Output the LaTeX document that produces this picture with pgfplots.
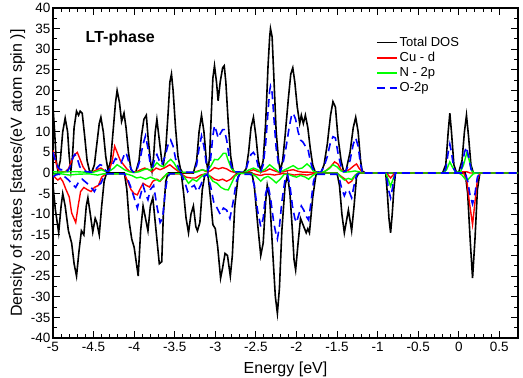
\documentclass[border=0pt]{standalone}
\usepackage{fontspec}
\setmainfont{Liberation Sans}
\usepackage{pgfplots}
\pgfplotsset{compat=1.18}
\begin{document}
\begin{tikzpicture}[x=1pt,y=1pt]
\begin{axis}[
  scale only axis, width=465pt, height=330pt,
  xmin=-5, xmax=0.73, ymin=-40, ymax=40,
  xtick={-5,-4.5,-4,-3.5,-3,-2.5,-2,-1.5,-1,-0.5,0,0.5},
  xticklabels={-5,-4.5,-4,-3.5,-3,-2.5,-2,-1.5,-1,-0.5,0,0.5},
  ytick={-40,-35,-30,-25,-20,-15,-10,-5,0,5,10,15,20,25,30,35,40},
  yticklabels={-40,-35,-30,-25,-20,-15,-10,-5,0,5,10,15,20,25,30,35,40},
  minor x tick num=4, minor y tick num=1,
  tick align=inside, tick pos=both,
  major tick length=7pt, minor tick length=4pt,
  every tick/.style={black, line width=1pt},
  axis line style={line width=1.2pt},
  tick label style={font=\fontsize{13.5}{15}\selectfont},
  xticklabel style={yshift=-1pt},
  yticklabel style={xshift=1pt},
  /pgf/number format/assume math mode=true,
  xlabel={Energy [eV]}, ylabel={Density of states [states/(eV atom spin )]},
  label style={font=\fontsize{16}{18}\selectfont},
  xlabel style={yshift=-3pt},
  ylabel style={yshift=-1pt},
  legend style={at={(0.688,0.925)}, anchor=north west, draw=none, fill=none,
    font=\fontsize{13}{15}\selectfont, row sep=0.5pt,
    /tikz/every even column/.append style={column sep=9pt}},
  legend cell align=left,
  legend image code/.code={\draw[#1] (0pt,0pt) -- (20pt,0pt);},
  clip=true,
]
% Total DOS up
\addplot[black, line width=1.6pt] coordinates {
(-5,16) (-4.98,10) (-4.96,3) (-4.94,0.5) (-4.91,3) (-4.88,10) (-4.85,13.3) (-4.82,10) (-4.80,4) (-4.78,0.5) (-4.76,4) (-4.74,11) (-4.71,15) (-4.685,14) (-4.665,15) (-4.64,14.5) (-4.61,9) (-4.58,3) (-4.55,0.5) (-4.52,0.3) (-4.49,2) (-4.46,7) (-4.43,12) (-4.41,13.5) (-4.38,10) (-4.35,4) (-4.32,0.5) (-4.29,3) (-4.26,10) (-4.23,17) (-4.21,20) (-4.18,17) (-4.155,12.5) (-4.125,14.5) (-4.10,11) (-4.07,5) (-4.04,1) (-4.02,0.2) (-3.98,0.2) (-3.94,3) (-3.91,9) (-3.88,13) (-3.85,14) (-3.83,9) (-3.80,3) (-3.78,0.5) (-3.76,4) (-3.74,10) (-3.72,13) (-3.69,8) (-3.66,3) (-3.64,2) (-3.61,6) (-3.58,15) (-3.56,22) (-3.54,24) (-3.52,20) (-3.49,11) (-3.46,4) (-3.43,1) (-3.40,0) (-3.27,0) (-3.23,3) (-3.20,10) (-3.17,14) (-3.14,10) (-3.11,3) (-3.09,0.5) (-3.07,4) (-3.05,14) (-3.03,23) (-3.01,26) (-2.985,22) (-2.965,17.5) (-2.94,22) (-2.91,25.5) (-2.89,26) (-2.87,22) (-2.84,12) (-2.81,4) (-2.78,0.5) (-2.74,0) (-2.66,0) (-2.62,1) (-2.59,5) (-2.56,11) (-2.53,13.5) (-2.50,9) (-2.47,3) (-2.44,0.5) (-2.41,3) (-2.38,12) (-2.35,26) (-2.33,33) (-2.32,35) (-2.30,33) (-2.28,24) (-2.25,10) (-2.22,3) (-2.20,0.5) (-2.17,3) (-2.14,9) (-2.10,18) (-2.07,24) (-2.045,25.5) (-2.02,22) (-1.99,16) (-1.96,12) (-1.94,14) (-1.915,12) (-1.89,14) (-1.86,11) (-1.83,6) (-1.80,2) (-1.77,0.3) (-1.70,0) (-1.66,2) (-1.62,7) (-1.58,14) (-1.55,17.3) (-1.52,16) (-1.49,9) (-1.45,3) (-1.42,0.5) (-1.39,0.5) (-1.34,5) (-1.30,11) (-1.27,13.5) (-1.24,10) (-1.21,3) (-1.19,0.5) (-1.15,0) (-0.20,0) (-0.16,2) (-0.13,10) (-0.11,14.5) (-0.09,10) (-0.06,2) (-0.03,0.2) (0.00,0.2) (0.04,3) (0.07,10) (0.095,14) (0.12,9) (0.15,2) (0.18,0) (0.73,0)
};
\addlegendentry{Total DOS}
% Cu-d up
\addplot[red, line width=1.4pt] coordinates {
(-5,5.5) (-4.98,4) (-4.95,1.5) (-4.92,0.2) (-4.89,0.3) (-4.85,0.3) (-4.81,1) (-4.77,3) (-4.73,4.5) (-4.70,5) (-4.67,3.5) (-4.63,1.5) (-4.59,0.3) (-4.52,0.2) (-4.46,0.8) (-4.41,1.2) (-4.36,0.5) (-4.31,0.5) (-4.27,3) (-4.24,6.5) (-4.21,5) (-4.17,3) (-4.13,2) (-4.09,1) (-4.05,0.3) (-3.97,0.3) (-3.92,0.8) (-3.87,1.2) (-3.82,0.8) (-3.78,0.3) (-3.73,1.2) (-3.68,0.8) (-3.63,1.2) (-3.56,2) (-3.51,1.2) (-3.45,0.3) (-3.40,0.1) (-3.27,0.1) (-3.21,0.5) (-3.16,0.8) (-3.11,0.3) (-3.06,0.5) (-3.01,1.3) (-2.96,1) (-2.91,1.3) (-2.86,1) (-2.81,0.4) (-2.75,0.1) (-2.62,0.1) (-2.57,0.5) (-2.53,0.8) (-2.48,0.4) (-2.44,0.2) (-2.38,0.5) (-2.33,1) (-2.28,0.6) (-2.22,0.2) (-2.16,0.3) (-2.10,0.6) (-2.04,0.8) (-1.98,0.4) (-1.92,0.2) (-1.86,0.2) (-1.80,0.1) (-1.70,0.1) (-1.64,0.5) (-1.58,1.5) (-1.53,2.7) (-1.49,2.2) (-1.45,0.8) (-1.41,0.3) (-1.35,0.8) (-1.29,1.8) (-1.26,2.2) (-1.23,1.2) (-1.19,0.2) (-1.15,0) (0.0,0) (0.05,0.3) (0.10,0.3) (0.14,0) (0.73,0)
};
\addlegendentry{Cu - d}
% N-2p up
\addplot[green, line width=1.4pt] coordinates {
(-5,0.3) (-4.90,0.2) (-4.80,0.3) (-4.70,0.3) (-4.60,0.2) (-4.50,0.2) (-4.45,0.5) (-4.40,0.8) (-4.35,0.3) (-4.30,0.5) (-4.25,1.2) (-4.21,2) (-4.17,1.5) (-4.12,0.8) (-4.06,0.3) (-4.0,0.1) (-3.94,0.3) (-3.88,0.8) (-3.84,1) (-3.80,0.6) (-3.76,1.5) (-3.72,2.5) (-3.68,1.8) (-3.64,1.5) (-3.58,2.8) (-3.55,3.3) (-3.51,2.5) (-3.46,0.8) (-3.41,0.2) (-3.3,0.1) (-3.22,0.3) (-3.16,0.8) (-3.11,0.5) (-3.06,1.5) (-3.01,3.3) (-2.97,3.2) (-2.94,3.8) (-2.90,4.8) (-2.87,4.8) (-2.84,3) (-2.80,1) (-2.75,0.2) (-2.65,0.1) (-2.58,0.8) (-2.53,1.2) (-2.48,0.8) (-2.44,0.3) (-2.38,1) (-2.33,2) (-2.28,1.2) (-2.22,0.3) (-2.17,0.5) (-2.10,1.2) (-2.04,1.8) (-1.98,1) (-1.93,1.2) (-1.87,2.2) (-1.83,1.5) (-1.79,0.4) (-1.74,0.1) (-1.66,0.3) (-1.60,1) (-1.55,2) (-1.50,1.5) (-1.45,0.5) (-1.40,0.2) (-1.34,0.3) (-1.28,0.5) (-1.23,0.3) (-1.18,0) (-0.19,0) (-0.15,0.8) (-0.11,2.7) (-0.08,1.5) (-0.04,0.2) (0.02,0.2) (0.06,2) (0.10,5) (0.13,3) (0.16,0.5) (0.19,0) (0.73,0)
};
\addlegendentry{N - 2p}
% O-2p up
\addplot[blue, line width=1.6pt, dash pattern=on 8pt off 5pt] coordinates {
(-5,5) (-4.97,3) (-4.94,1.5) (-4.91,0.8) (-4.88,0.8) (-4.85,1) (-4.82,0.5) (-4.79,1.5) (-4.75,4) (-4.73,4.5) (-4.70,3.5) (-4.67,1.5) (-4.63,0.8) (-4.59,0.3) (-4.52,0.2) (-4.47,1) (-4.42,2) (-4.39,1.8) (-4.35,0.6) (-4.32,0.3) (-4.27,2) (-4.23,3.5) (-4.19,3) (-4.16,2.5) (-4.12,4.5) (-4.10,5) (-4.07,3) (-4.04,1) (-4.01,0.2) (-3.97,0.5) (-3.93,3) (-3.89,7) (-3.86,9) (-3.83,6) (-3.80,2) (-3.77,1.5) (-3.74,4) (-3.72,4.5) (-3.69,3) (-3.66,2) (-3.62,4) (-3.58,7) (-3.55,8) (-3.52,6.5) (-3.49,3.5) (-3.45,1) (-3.42,0.2) (-3.27,0.2) (-3.23,2) (-3.20,6) (-3.17,9) (-3.14,6.5) (-3.11,2) (-3.09,0.5) (-3.06,3) (-3.03,9) (-3.01,11.5) (-2.985,10) (-2.965,8.5) (-2.94,9.5) (-2.91,10.5) (-2.89,10.5) (-2.86,8) (-2.83,4) (-2.80,1.5) (-2.77,0.3) (-2.66,0.2) (-2.62,1) (-2.59,3) (-2.56,4.5) (-2.53,5) (-2.50,4) (-2.47,1.5) (-2.44,0.3) (-2.41,2) (-2.38,7) (-2.35,15) (-2.33,20) (-2.32,21) (-2.30,19.5) (-2.28,14) (-2.25,6) (-2.22,2) (-2.20,0.3) (-2.17,2) (-2.13,6) (-2.09,11) (-2.06,14) (-2.04,14.5) (-2.01,13) (-1.98,10) (-1.95,8) (-1.92,7.5) (-1.89,6.5) (-1.86,6) (-1.84,4) (-1.81,1.5) (-1.78,0.3) (-1.70,0.2) (-1.66,1.5) (-1.62,4) (-1.58,7.5) (-1.55,8.8) (-1.52,8.5) (-1.49,5) (-1.45,1.5) (-1.42,0.3) (-1.39,0.5) (-1.34,3) (-1.30,7) (-1.27,8.5) (-1.24,6.5) (-1.21,2) (-1.19,0.3) (-1.15,0) (-0.19,0) (-0.16,1) (-0.13,5) (-0.11,7) (-0.09,5) (-0.06,1) (-0.03,0) (0.01,0) (0.04,1.5) (0.07,5) (0.095,6.3) (0.12,4) (0.15,1) (0.18,0) (0.73,0)
};
\addlegendentry{O-2p}
% Total DOS down
\addplot[black, line width=1.6pt] coordinates {
(-5,-3) (-4.97,-9) (-4.93,-14.5) (-4.90,-8) (-4.88,-5) (-4.85,-8) (-4.81,-14) (-4.77,-17) (-4.74,-22) (-4.71,-25) (-4.68,-19) (-4.65,-14) (-4.62,-15) (-4.59,-8) (-4.57,-6) (-4.54,-10) (-4.51,-14.3) (-4.48,-11) (-4.46,-12) (-4.43,-15) (-4.40,-8) (-4.37,-2) (-4.34,0) (-4.12,0) (-4.09,-4) (-4.06,-12) (-4.03,-16) (-4.00,-18) (-3.95,-25) (-3.92,-14) (-3.89,-8) (-3.86,-11) (-3.83,-14) (-3.80,-8) (-3.77,-6) (-3.74,-12) (-3.71,-18) (-3.69,-22) (-3.66,-21.5) (-3.64,-10) (-3.61,-2) (-3.58,0) (-3.42,0) (-3.39,-5) (-3.36,-11) (-3.33,-14.5) (-3.30,-10) (-3.27,-8) (-3.24,-13) (-3.22,-14) (-3.19,-12) (-3.16,-4) (-3.13,-0.5) (-3.09,-0.5) (-3.06,-6) (-3.03,-12.5) (-3.00,-13.5) (-2.97,-18) (-2.935,-25.5) (-2.91,-23) (-2.88,-19.5) (-2.85,-20) (-2.815,-25) (-2.79,-20) (-2.76,-8) (-2.72,-1) (-2.69,0) (-2.55,0) (-2.52,-3) (-2.48,-12) (-2.44,-20) (-2.41,-17) (-2.38,-7) (-2.36,-3) (-2.33,-6) (-2.29,-20) (-2.26,-30) (-2.235,-34) (-2.21,-28) (-2.18,-14) (-2.14,-3) (-2.11,-0.5) (-2.08,-5) (-2.05,-14) (-2.03,-21) (-2.01,-23.5) (-1.98,-17) (-1.95,-11) (-1.92,-12.5) (-1.88,-14.5) (-1.86,-13.5) (-1.84,-14.5) (-1.80,-6) (-1.76,-0.5) (-1.73,0) (-1.50,0) (-1.47,-3) (-1.44,-10) (-1.41,-14.5) (-1.36,-9) (-1.32,-14) (-1.29,-8) (-1.26,-1) (-1.23,0) (-0.90,0) (-0.88,-5) (-0.86,-11) (-0.84,-14.5) (-0.82,-10) (-0.80,-4) (-0.78,0) (0.08,0) (0.11,-5) (0.14,-16) (0.17,-25.5) (0.20,-16) (0.23,-4) (0.26,0) (0.73,0)
};
% Cu-d down
\addplot[red, line width=1.4pt] coordinates {
(-5,-0.5) (-4.97,-1.2) (-4.94,-1.7) (-4.91,-1.2) (-4.88,-2) (-4.84,-4) (-4.80,-5.8) (-4.77,-9.7) (-4.72,-12) (-4.69,-8) (-4.66,-4.5) (-4.62,-3.5) (-4.58,-4) (-4.53,-4.5) (-4.49,-3.5) (-4.44,-3) (-4.40,-1) (-4.35,-0.2) (-4.12,-0.2) (-4.08,-2) (-4.04,-4) (-4.00,-5) (-3.96,-5.3) (-3.93,-4) (-3.89,-2.5) (-3.85,-3) (-3.81,-3.4) (-3.77,-2) (-3.72,-1.5) (-3.68,-2) (-3.64,-1) (-3.59,-0.2) (-3.42,-0.2) (-3.36,-1) (-3.30,-1.2) (-3.24,-1.2) (-3.18,-0.5) (-3.12,-0.2) (-3.06,-0.8) (-3.01,-1.5) (-2.96,-1.8) (-2.91,-1.5) (-2.86,-2) (-2.81,-1.5) (-2.76,-0.5) (-2.70,-0.1) (-2.55,-0.1) (-2.49,-0.4) (-2.44,-0.6) (-2.39,-0.3) (-2.33,-0.3) (-2.27,-0.5) (-2.22,-0.3) (-2.16,-0.1) (-2.10,-0.2) (-2.03,-0.5) (-1.95,-0.3) (-1.87,-0.5) (-1.80,-0.2) (-1.75,0) (-1.50,0) (-1.45,-0.8) (-1.40,-1.5) (-1.36,-2.5) (-1.32,-2) (-1.28,-0.6) (-1.24,0) (-0.90,0) (-0.87,-0.5) (-0.84,-1.2) (-0.81,-0.5) (-0.78,0) (0.06,0) (0.10,-2) (0.13,-7) (0.17,-12.5) (0.20,-7) (0.23,-1.5) (0.26,0) (0.73,0)
};
% N-2p down
\addplot[green, line width=1.4pt] coordinates {
(-5,-0.3) (-4.90,-0.2) (-4.80,-0.5) (-4.70,-0.3) (-4.55,-0.2) (-4.45,-0.5) (-4.38,-0.2) (-4.10,-0.2) (-4.03,-0.6) (-3.97,-1.2) (-3.92,-1) (-3.86,-1.5) (-3.80,-1) (-3.74,-1.5) (-3.69,-2) (-3.64,-1.2) (-3.60,-0.2) (-3.45,-0.1) (-3.38,-1) (-3.33,-2.5) (-3.28,-1.5) (-3.23,-2) (-3.18,-1) (-3.13,-0.2) (-3.08,-0.5) (-3.03,-2) (-2.98,-2.5) (-2.93,-3.5) (-2.88,-4) (-2.84,-4.1) (-2.80,-2.5) (-2.76,-0.8) (-2.71,-0.1) (-2.56,-0.1) (-2.50,-0.8) (-2.44,-2) (-2.40,-1.2) (-2.35,-0.8) (-2.30,-1.5) (-2.25,-2.4) (-2.20,-1.5) (-2.15,-0.3) (-2.10,-0.3) (-2.04,-0.8) (-2.00,-1) (-1.95,-0.6) (-1.89,-1) (-1.85,-1.5) (-1.80,-0.6) (-1.75,0) (-1.50,0) (-1.45,-1) (-1.41,-1.7) (-1.36,-1.3) (-1.32,-1.6) (-1.28,-0.6) (-1.24,0) (-0.90,0) (-0.87,-1.5) (-0.84,-3.2) (-0.81,-1.5) (-0.78,0) (0.0,0) (0.04,-0.5) (0.08,-1.5) (0.11,-1.7) (0.14,-1) (0.18,-0.2) (0.22,0) (0.73,0)
};
% O-2p down
\addplot[blue, line width=1.6pt, dash pattern=on 8pt off 5pt] coordinates {
(-5,-1) (-4.97,-0.5) (-4.93,-0.3) (-4.88,-0.5) (-4.82,-1.5) (-4.77,-2.5) (-4.72,-3.5) (-4.68,-2) (-4.64,-1.5) (-4.58,-2.5) (-4.53,-3.5) (-4.49,-4.5) (-4.45,-3) (-4.41,-2.5) (-4.37,-0.8) (-4.33,-0.2) (-4.12,-0.2) (-4.08,-1.5) (-4.04,-3.5) (-4.00,-6) (-3.96,-8.5) (-3.93,-6) (-3.89,-3) (-3.86,-5) (-3.83,-6.5) (-3.80,-4) (-3.76,-3) (-3.72,-8) (-3.68,-12) (-3.65,-11) (-3.62,-5) (-3.59,-1) (-3.56,-0.2) (-3.42,-0.2) (-3.38,-2) (-3.34,-4.5) (-3.30,-3.5) (-3.26,-3) (-3.22,-4.5) (-3.18,-3) (-3.14,-0.8) (-3.10,-0.3) (-3.06,-3) (-3.02,-7) (-2.99,-8) (-2.94,-10) (-2.90,-8.5) (-2.86,-9) (-2.82,-11) (-2.78,-7) (-2.74,-2) (-2.70,-0.3) (-2.56,-0.3) (-2.52,-3) (-2.48,-9) (-2.44,-13) (-2.41,-11) (-2.38,-5) (-2.35,-3) (-2.32,-6) (-2.28,-12) (-2.25,-15) (-2.235,-16) (-2.21,-13) (-2.18,-7) (-2.14,-1.5) (-2.11,-0.5) (-2.08,-3) (-2.05,-8) (-2.02,-11) (-2.00,-12) (-1.97,-10) (-1.94,-8) (-1.91,-9) (-1.88,-10.5) (-1.85,-11.4) (-1.82,-7) (-1.79,-2) (-1.76,-0.3) (-1.50,-0.3) (-1.47,-1.5) (-1.44,-4) (-1.41,-5.5) (-1.38,-4) (-1.35,-4.5) (-1.32,-6) (-1.29,-3) (-1.26,-0.5) (-1.22,0) (-0.90,0) (-0.88,-2) (-0.86,-4.5) (-0.84,-6) (-0.82,-4) (-0.80,-1.5) (-0.78,0) (0.08,0) (0.11,-2) (0.14,-5.5) (0.17,-7.5) (0.20,-5) (0.23,-1) (0.26,0) (0.73,0)
};
\node[anchor=west, font=\fontsize{16}{18}\selectfont\bfseries] at (axis cs:-4.64,32.7) {LT-phase};
\end{axis}
\pgfresetboundingbox
\path[use as bounding box] (-53pt,-40pt) rectangle (470pt,338pt);
\end{tikzpicture}
\end{document}
